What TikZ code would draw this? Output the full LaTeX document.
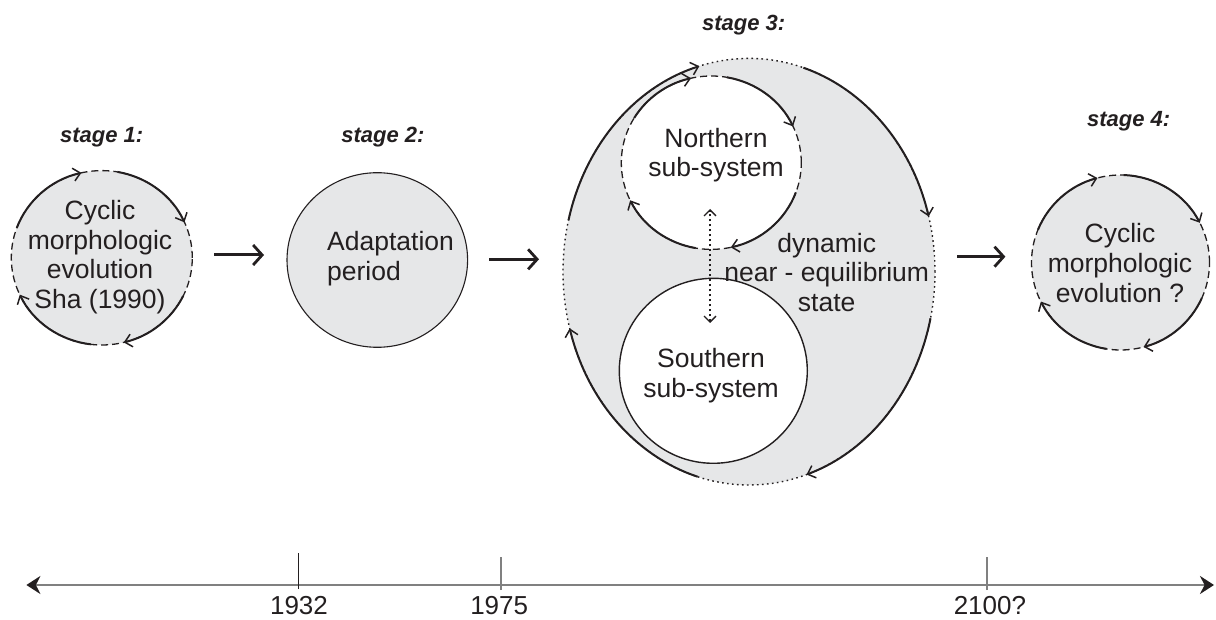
\documentclass[tikz,border=0pt]{standalone}
\usepackage{fontspec}
\setmainfont{Liberation Sans}
\usetikzlibrary{arrows.meta,shapes.geometric}
\definecolor{ink}{HTML}{231F20}
\definecolor{shade}{HTML}{E6E7E8}
\definecolor{axisgrey}{HTML}{808080}

\begin{document}
\begin{tikzpicture}[x=1pt,y=1pt,
  every node/.style={text=ink},
  body/.style={font=\fontsize{26.5}{29.6}\selectfont, align=center, inner sep=0pt},
  stagelabel/.style={font=\fontsize{22}{26}\selectfont\bfseries\itshape, inner sep=0pt},
  yearlabel/.style={font=\fontsize{26}{30}\selectfont, inner sep=0pt, anchor=base},
  blob/.style 2 args={ellipse, inner sep=0pt, outer sep=0pt, minimum width=#1, minimum height=#2},
  dashedrim/.style={draw=ink, line width=1.3pt, dash pattern=on 7pt off 4pt},
  dottedrim/.style={draw=ink, line width=1.4pt, dash pattern=on 1.6pt off 3.4pt},
  flowarc/.style={draw=ink, line width=2pt, -{Straight Barb[length=7pt,width=13pt,line width=1.5pt]}},
  stagearrow/.style={draw=ink, line width=3pt, -{Straight Barb[length=9pt,width=20pt,line width=2.8pt]}},
  exchange/.style={draw=ink, line width=1.4pt, dash pattern=on 2pt off 3pt,
    {Straight Barb[length=6pt,width=12pt,line width=1.3pt]}-{Straight Barb[length=6pt,width=12pt,line width=1.3pt]}},
  axis/.style={draw=axisgrey, line width=2.2pt,
    {Stealth[length=14pt,width=18pt,color=ink]}-{Stealth[length=14pt,width=18pt,color=ink]}},
  tick/.style={draw=axisgrey, line width=1.8pt},
]
\useasboundingbox (0,0) rectangle (1216,619);

% ---------- stage 1: cyclic evolution ----------
\node[stagelabel] (lab1) at (101.6,482) {stage 1:};
\node[blob={181}{174.4}, fill=shade, dashedrim] (s1) at (101.8,361.2) {};
\foreach \a/\b in {160/103, 80/24, -26/-76, -97/-155}
  \draw[flowarc] (s1.center) ++(\a:90.5 and 87.2) arc[start angle=\a, end angle=\b, x radius=90.5, y radius=87.2];
\node[body] (t1) at (100,361.7) {Cyclic\\morphologic\\evolution\\Sha (1990)};

% ---------- stage 2: adaptation ----------
\node[stagelabel] (lab2) at (383,482) {stage 2:};
\node[blob={180.6}{174.6}, fill=shade, draw=ink, line width=1.1pt] (s2) at (377.3,359) {};
\node[body, align=left, anchor=west] (t2) at (327,360.5) {Adaptation\\period};

% ---------- stage 3: two sub-systems ----------
\node[stagelabel] (lab3) at (743.7,594) {stage 3:};
\node[blob={372}{426.6}, fill=shade] (s3) at (749,347.3) {};
\node[blob={180}{173.4}, fill=white] (north) at (711.3,456.3) {};
\node[blob={188}{185}, fill=white, draw=ink, line width=1.4pt] (south) at (713.3,248.2) {};

\draw[dottedrim] (s3.center) ellipse[x radius=186, y radius=213.3];
\foreach \a/\b in {166/105.5, 73/15, -12.6/-72, -106/-164.6}
  \draw[flowarc] (s3.center) ++(\a:186 and 213.3) arc[start angle=\a, end angle=\b, x radius=186, y radius=213.3];

\draw[dashedrim] (north.center) ellipse[x radius=90, y radius=86.7];
\foreach \a/\b in {149/103, 80/24.7, -20/-77.5, -100/-154.3}
  \draw[flowarc] (north.center) ++(\a:90 and 86.7) arc[start angle=\a, end angle=\b, x radius=90, y radius=86.7];

\node[body] (tn) at (716,464) {Northern\\sub-system};
\node[body] (ts) at (711,243.2) {Southern\\sub-system};
\node[body] (teq) at (826.7,346.8) {dynamic\\near - equilibrium\\state};

\coordinate (xn) at (710,410);
\coordinate (xs) at (710,296);
\draw[exchange] (xs) -- (xn);

% ---------- stage 4: cyclic evolution again ----------
\node[stagelabel] (lab4) at (1128.6,497.3) {stage 4:};
\node[blob={178}{175}, fill=shade, dashedrim] (s4) at (1120.5,356.5) {};
\foreach \a/\b in {158/105, 88/27, -24/-75, -99/-153.5}
  \draw[flowarc] (s4.center) ++(\a:89 and 87.5) arc[start angle=\a, end angle=\b, x radius=89, y radius=87.5];
\node[body] (t4) at (1120,356) {Cyclic\\morphologic\\evolution ?};

% ---------- transitions between stages ----------
\coordinate (a1s) at (214,364);   \coordinate (a1e) at (264,364);
\coordinate (a2s) at (489,359.7); \coordinate (a2e) at (539,359.7);
\coordinate (a3s) at (957,362.3); \coordinate (a3e) at (1005.4,362.3);
\draw[stagearrow] (a1s) -- (a1e);
\draw[stagearrow] (a2s) -- (a2e);
\draw[stagearrow] (a3s) -- (a3e);

% ---------- time axis ----------
\coordinate (tl) at (26.4,34);
\coordinate (tr) at (1214,34);
\draw[axis] (tl) -- (tr);
\coordinate (k1a) at (298.6,30);   \coordinate (k1b) at (298.6,66.3);
\coordinate (k2a) at (500.6,29);   \coordinate (k2b) at (500.6,62);
\coordinate (k3a) at (986.8,29);   \coordinate (k3b) at (986.8,62);
\draw[draw=ink, line width=1.1pt] (k1a) -- (k1b);
\draw[tick] (k2a) -- (k2b);
\draw[tick] (k3a) -- (k3b);
\node[yearlabel] (y1) at (299,4.5) {1932};
\node[yearlabel] (y2) at (499.2,4.5) {1975};
\node[yearlabel] (y3) at (989.9,4.5) {2100?};
\end{tikzpicture}
\end{document}
